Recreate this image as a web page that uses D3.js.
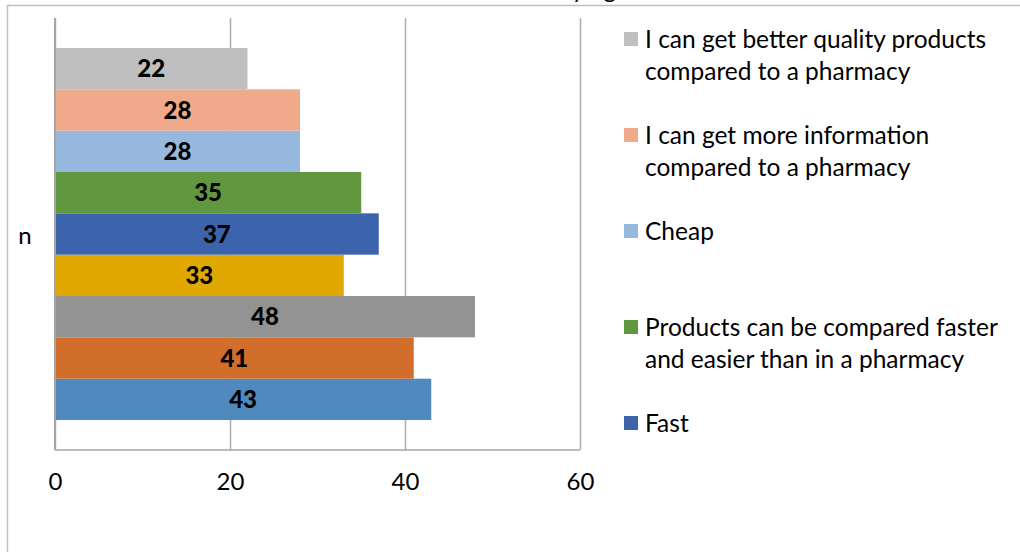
<!DOCTYPE html>
<html>
<head>
<meta charset="utf-8">
<script src="https://cdn.jsdelivr.net/npm/d3@7"></script>
<style>
  html, body { margin: 0; padding: 0; background: #fff; }
  svg { display: block; font-family: Lato, "Open Sans", sans-serif; }
</style>
</head>
<body>
<svg id="chart" width="1020" height="552"></svg>
<script>
// Reasons for buying online: one category, nine series (series 1 drawn at the bottom)
const category = "n";
const values = [43, 41, 48, 33, 37, 35, 28, 28, 22];
const colors = ["#4F89BD", "#D26E2B", "#939393", "#E0A800", "#3C64AC", "#61983F", "#98B9DF", "#F0A98A", "#BFBFBF"];
// Legend entries, listed top-down (series 9 down to series 5)
const legendSeries = [8, 7, 6, 5, 4];
const legendLabels = [
  ["I can get better quality products", "compared to a pharmacy"],
  ["I can get more information", "compared to a pharmacy"],
  ["Cheap"],
  ["Products can be compared faster", "and easier than in a pharmacy"],
  ["Fast"]
];
const xTicks = [0, 20, 40, 60];
const titleText = "Reasons for buying online";

const svg = d3.select("#chart");
const W = 1020, H = 552;
const plot = { left: 55, right: 580, top: 18, bottom: 450 };

svg.append("rect").attr("width", W).attr("height", H).attr("fill", "#fff");

// chart frame
svg.append("rect")
  .attr("x", 7.5).attr("y", 5.5)
  .attr("width", W + 20).attr("height", H + 20)
  .attr("fill", "none").attr("stroke", "#BFBFBF").attr("stroke-width", 1.5);

// title (sits above the frame's top edge)
const title = svg.append("text")
  .attr("y", -2)
  .attr("font-size", 24)
  .attr("fill", "#000")
  .text(titleText);
const tNode = title.node();
const yIdx = titleText.indexOf("buying") + 2;
const off = tNode.getSubStringLength(0, yIdx);
title.attr("x", 572 - off);

const x = d3.scaleLinear().domain([0, 60]).range([plot.left, plot.right]);
const yCat = d3.scaleBand().domain([category]).range([plot.top, plot.bottom]);
const ySer = d3.scaleBand()
  .domain(d3.range(values.length))
  .range([yCat(category) + yCat.bandwidth(), yCat(category)])
  .paddingInner(0)
  .paddingOuter(0.725);

// gridlines + tick labels
const xAxis = d3.axisBottom(x)
  .tickValues(xTicks)
  .tickSize(-(plot.bottom - plot.top))
  .tickPadding(23)
  .tickFormat(d3.format("d"));
const gx = svg.append("g")
  .attr("transform", `translate(0,${plot.bottom})`)
  .call(xAxis);
gx.select(".domain").remove();
gx.selectAll(".tick line").attr("stroke", "#ADADAD").attr("stroke-width", 1.5);
gx.selectAll(".tick text")
  .attr("font-size", 24)
  .attr("fill", "#000")
  .attr("font-family", "Lato, sans-serif");

// bars
svg.append("g").selectAll("rect")
  .data(values)
  .join("rect")
  .attr("x", x(0))
  .attr("y", (d, i) => ySer(i))
  .attr("width", d => x(d) - x(0))
  .attr("height", ySer.bandwidth())
  .attr("fill", (d, i) => colors[i]);

// axis lines
svg.append("line")
  .attr("x1", x(0)).attr("x2", x(0))
  .attr("y1", plot.top).attr("y2", plot.bottom)
  .attr("stroke", "#A6A6A6").attr("stroke-width", 2);
svg.append("line")
  .attr("x1", x(0)).attr("x2", x(60))
  .attr("y1", plot.bottom).attr("y2", plot.bottom)
  .attr("stroke", "#A6A6A6").attr("stroke-width", 1.5);

// value labels
svg.append("g").selectAll("text")
  .data(values)
  .join("text")
  .attr("x", d => x(d / 2))
  .attr("y", (d, i) => ySer(i) + ySer.bandwidth() / 2)
  .attr("dy", "0.36em")
  .attr("text-anchor", "middle")
  .attr("font-size", 24)
  .attr("font-weight", 900)
  .attr("fill", "#000")
  .text(d => d);

// category label
svg.append("text")
  .attr("x", 25)
  .attr("y", yCat(category) + yCat.bandwidth() / 2)
  .attr("dy", "0.4em")
  .attr("text-anchor", "middle")
  .attr("font-size", 24)
  .attr("fill", "#000")
  .text(category);

// legend
const legendY = d3.scaleLinear().domain([0, 1]).range([39, 135]);
const lg = svg.append("g");
legendSeries.forEach((s, k) => {
  const cy = legendY(k);
  lg.append("rect")
    .attr("x", 624).attr("y", cy - 7)
    .attr("width", 14).attr("height", 14)
    .attr("fill", colors[s]);
  const t = lg.append("text")
    .attr("x", 645)
    .attr("y", cy)
    .attr("font-size", 24.5)
    .attr("fill", "#000");
  legendLabels[k].forEach((line, j) => {
    t.append("tspan").attr("x", 645).attr("dy", j === 0 ? "0.36em" : 32).text(line);
  });
});
</script>
</body>
</html>
